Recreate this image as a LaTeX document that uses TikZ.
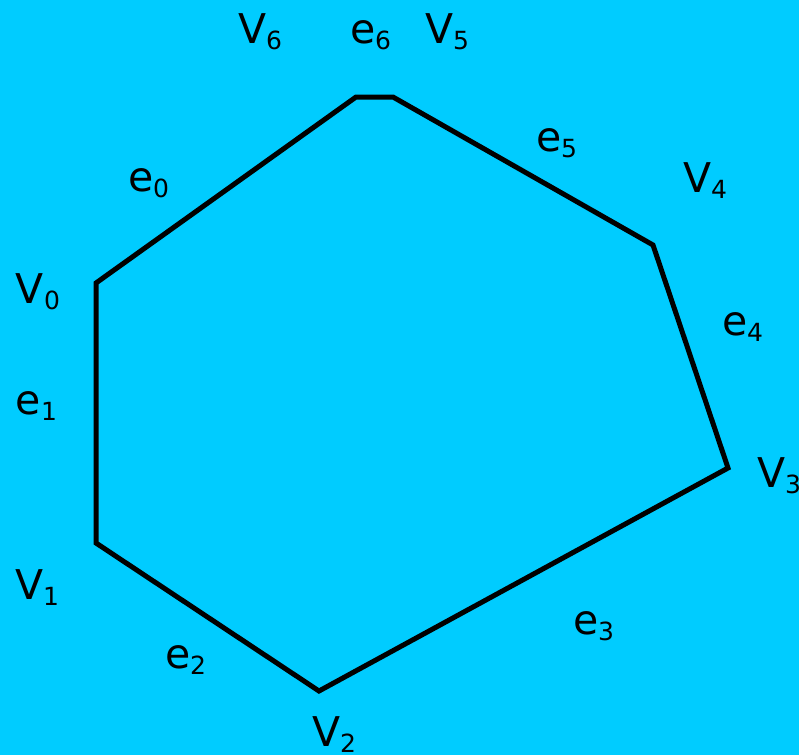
\documentclass[tikz,border=0pt]{standalone}
\usepackage{fontspec}
\setmainfont{DejaVu Sans}
\definecolor{bgblue}{HTML}{00CCFF}
\newcommand{\lbl}[2]{{\fontsize{41}{41}\selectfont #1\raisebox{-6pt}{\fontsize{25}{25}\selectfont #2}}}
\tikzset{
  lab/.style={anchor=base west, inner sep=0pt, outer sep=0pt, text=black},
  edge/.style={line width=5pt, draw=black, line join=miter}
}
\begin{document}
\begin{tikzpicture}[x=1pt,y=-1pt]
\fill[bgblue] (0,0) rectangle (799,755);
\useasboundingbox (0,0) rectangle (799,755);
\coordinate (v0) at (96,283);
\coordinate (v1) at (96,543);
\coordinate (v2) at (319,691);
\coordinate (v3) at (728,468);
\coordinate (v4) at (653,245);
\coordinate (v5) at (393,97);
\coordinate (v6) at (356,97);
\draw[edge] (v0) -- (v1) -- (v2) -- (v3) -- (v4) -- (v5) -- (v6) -- cycle;
\node[lab] (lV6) at (238,43) {\lbl{V}{6}};
\node[lab] (le6) at (350,43) {\lbl{e}{6}};
\node[lab] (lV5) at (425,43) {\lbl{V}{5}};
\node[lab] (le5) at (536,151) {\lbl{e}{5}};
\node[lab] (lV4) at (683,192) {\lbl{V}{4}};
\node[lab] (le0) at (128,191) {\lbl{e}{0}};
\node[lab] (lV0) at (16,303) {\lbl{V}{0}};
\node[lab] (le4) at (722,335) {\lbl{e}{4}};
\node[lab] (le1) at (16,414) {\lbl{e}{1}};
\node[lab] (lV3) at (757,487) {\lbl{V}{3}};
\node[lab] (lV1) at (15,599) {\lbl{V}{1}};
\node[lab] (le3) at (573,634) {\lbl{e}{3}};
\node[lab] (le2) at (165,668) {\lbl{e}{2}};
\node[lab] (lV2) at (312,746) {\lbl{V}{2}};
\end{tikzpicture}
\end{document}
